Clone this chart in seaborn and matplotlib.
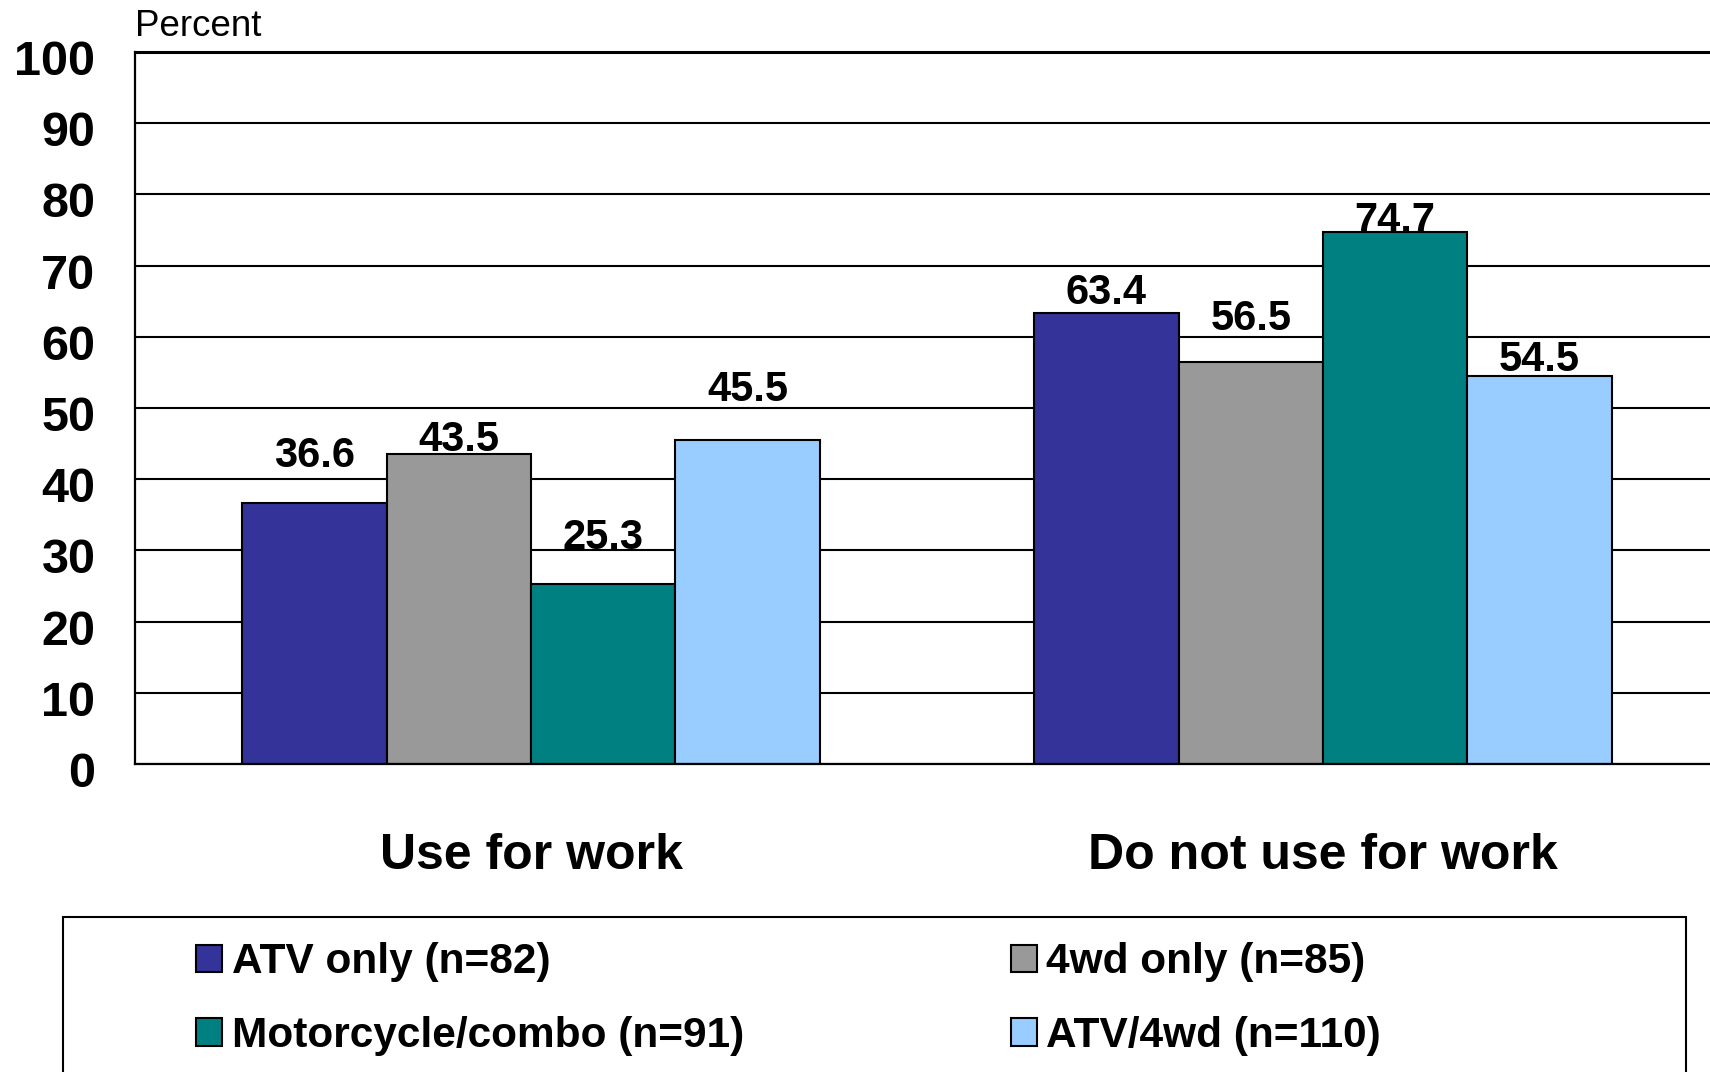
import pandas as pd
import matplotlib
matplotlib.use("Agg")
import matplotlib.pyplot as plt
import matplotlib.transforms as mtransforms
from matplotlib.patches import Rectangle
import seaborn as sns

# data
categories = ["Use for work", "Do not use for work"]
vehicles = ["ATV only (n=82)", "4wd only (n=85)", "Motorcycle/combo (n=91)", "ATV/4wd (n=110)"]
atv_only = [36.6, 63.4]
wd_only = [43.5, 56.5]
moto_combo = [25.3, 74.7]
atv_4wd = [45.5, 54.5]
colors = ["#333399", "#999999", "#008080", "#99CCFF"]

# label lift above each bar (px), same layout as the series
lift_atv = [47, 20]
lift_4wd = [14, 43]
lift_moto = [46, 11.5]
lift_both = [50.5, 16]

series = [atv_only, wd_only, moto_combo, atv_4wd]
lifts = [lift_atv, lift_4wd, lift_moto, lift_both]

rows = []
for v, vals in zip(vehicles, series):
    for c, val in zip(categories, vals):
        rows.append({"use": c, "vehicle": v, "pct": val})
df = pd.DataFrame(rows)

sns.set_style("white")
plt.rcParams["font.family"] = ["Liberation Sans", "DejaVu Sans"]
plt.rcParams["text.color"] = "black"
plt.rcParams["xtick.color"] = "black"
plt.rcParams["ytick.color"] = "black"

W, H = 1710, 1072
fig = plt.figure(figsize=(W / 100, H / 100), dpi=100)
ax = fig.add_axes([135 / W, 308 / H, (1719 - 135) / W, 712 / H])

sns.barplot(data=df, x="use", y="pct", hue="vehicle", order=categories,
            hue_order=vehicles, palette=colors, saturation=1, width=0.729,
            edgecolor="black", linewidth=1.5, ax=ax)

handles, labels = ax.get_legend_handles_labels()
ax.get_legend().remove()

ax.set_xlim(-0.5, 1.5)
ax.set_ylim(0, 100)
ax.set_yticks(range(0, 101, 10))
ax.set_xlabel("")
ax.set_ylabel("")
ax.yaxis.grid(True, color="black", lw=1.5)
ax.set_axisbelow(True)

ax.spines["right"].set_visible(False)
ax.spines["top"].set_linewidth(2.2)
ax.spines["left"].set_linewidth(1.6)
ax.spines["bottom"].set_linewidth(1.6)
for s in ax.spines.values():
    s.set_color("black")

ax.tick_params(axis="y", direction="out", length=11.5, width=1.5, pad=17,
               labelsize=35, colors="black")
for t in ax.get_yticklabels():
    t.set_fontweight("bold")
    t.set_transform(t.get_transform() + mtransforms.ScaledTranslation(0, -0.055, fig.dpi_scale_trans))

ax.set_xticks([0, 1])
ax.set_xticklabels(categories, fontsize=36, fontweight="bold", color="black")
ax.tick_params(axis="x", which="major", length=0, pad=50)
ax.set_xticks([-0.5, 0.5, 1.5], minor=True)
ax.tick_params(axis="x", which="minor", direction="out", length=12, width=1.5)

for cont, lift in zip(ax.containers, lifts):
    for bar, dy in zip(cont, lift):
        h = bar.get_height()
        ax.annotate(f"{h:.1f}", (bar.get_x() + bar.get_width() / 2, h),
                    xytext=(0, dy * 0.72), textcoords="offset points",
                    ha="center", va="center", fontsize=30, fontweight="bold",
                    color="black")

fig.text(135 / W, 1 - 26 / H, "Percent", fontsize=26.5, ha="left", va="center")

fig.patches.append(Rectangle((63 / W, -0.01), (1686 - 63) / W, 0.01 + 1 - 917 / H,
                             transform=fig.transFigure, fill=False,
                             edgecolor="black", lw=1.5))

# row-wise order like the original legend
order = [0, 2, 1, 3]
leg = fig.legend([handles[i] for i in order], [labels[i] for i in order],
                 ncol=2, loc="upper left",
                 bbox_to_anchor=(175 / W, 1 - 921 / H), frameon=False,
                 borderpad=0, handlelength=0.62, handleheight=0.62,
                 handletextpad=0.22, labelspacing=0.8, columnspacing=6.3,
                 prop={"size": 30.5, "weight": "bold"})
for p in leg.get_patches():
    p.set_edgecolor("black")
    p.set_linewidth(1.5)

fig.savefig("out.png", dpi=100)
